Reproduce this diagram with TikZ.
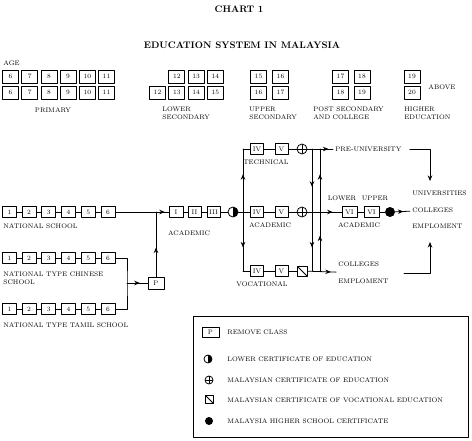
\documentclass[tikz,border=0pt]{standalone}
\usetikzlibrary{arrows.meta,decorations.markings}
\tikzset{
  age/.style={draw,inner sep=0pt,minimum width=16pt,minimum height=13pt},
  bx/.style={draw,inner sep=0pt,minimum width=#1,minimum height=11pt},
  bx/.default=14pt,
  lbl/.style={inner sep=0pt,align=left,anchor=west},
  hd/.style={inner sep=0pt,font=\fontsize{9.5}{11}\selectfont\bfseries},
  lce/.style={circle,draw,inner sep=0pt,minimum size=#1,
    path picture={\fill (path picture bounding box.north) rectangle (path picture bounding box.south east);}},
  lce/.default=10pt,
  mce/.style={circle,draw,inner sep=0pt,minimum size=#1,
    path picture={\draw (path picture bounding box.north) -- (path picture bounding box.south)
      (path picture bounding box.west) -- (path picture bounding box.east);}},
  mce/.default=10pt,
  mcve/.style={rectangle,draw,inner sep=0pt,minimum size=#1,
    path picture={\draw (path picture bounding box.north west) -- (path picture bounding box.south east);}},
  mcve/.default=10pt,
  hsc/.style={circle,fill,inner sep=0pt,minimum size=#1},
  hsc/.default=10pt,
  midarr/.style={decoration={markings,mark=at position #1 with {\arrow{>}}},postaction={decorate}},
  midarr/.default=0.6
}
\begin{document}
\begin{tikzpicture}[x=1pt,y=-1pt,>={Stealth[length=5.5pt,width=4.5pt]},line cap=round,line join=round,
  line width=0.8pt,font=\fontsize{6.6}{8.2}\selectfont]
\useasboundingbox (0,0) rectangle (472,440);
\node[hd](ti) at (239,9) {CHART 1};
\node[hd](st) at (242,45) {EDUCATION SYSTEM IN MALAYSIA};

% ages
\node[lbl](ag) at (3,63) {AGE};
\path(10.5,76.5)node[age](a1){6} ++(19.2,0)node[age](a2){7} ++(19.2,0)node[age](a3){8}
 ++(19.2,0)node[age](a4){9} ++(19.2,0)node[age](a5){10} ++(19.2,0)node[age](a6){11}
 (10.5,92.5)node[age](b1){6} ++(19.2,0)node[age](b2){7} ++(19.2,0)node[age](b3){8}
 ++(19.2,0)node[age](b4){9} ++(19.2,0)node[age](b5){10} ++(19.2,0)node[age](b6){11}
 (176.8,76.5)node[age](a7){12} ++(19.3,0)node[age](a8){13} ++(19.3,0)node[age](a9){14}
 (157.5,92.5)node[age](b7){12} ++(19.3,0)node[age](b8){13} ++(19.3,0)node[age](b9){14} ++(19.3,0)node[age](b10){15}
 (258.5,76.5)node[age](a10){15} ++(22,0)node[age](a11){16}
 (258.5,92.5)node[age](b11){16} ++(22,0)node[age](b12){17}
 (340.5,76.5)node[age](a12){17} ++(21.5,0)node[age](a13){18}
 (340.5,92.5)node[age](b13){18} ++(21.5,0)node[age](b14){19}
 (412,76.5)node[age](a14){19} (412,92.5)node[age](b15){20};
\node(ab) at (442,87) {ABOVE};
\node(pr) at (53,110) {PRIMARY};
\node[lbl](ls) at (162,113) {LOWER\\SECONDARY};
\node[lbl](us) at (249,113) {UPPER\\SECONDARY};
\node[lbl](ps) at (313,113) {POST SECONDARY\\AND COLLEGE};
\node[lbl](he) at (404,113) {HIGHER\\EDUCATION};

% primary schools
\path(9.4,212)node[bx](n1){1} ++(19.7,0)node[bx](n2){2} ++(19.7,0)node[bx](n3){3}
 ++(19.7,0)node[bx](n4){4} ++(19.7,0)node[bx](n5){5} ++(19.7,0)node[bx](n6){6}
 (9.4,258)node[bx](c1){1} ++(19.7,0)node[bx](c2){2} ++(19.7,0)node[bx](c3){3}
 ++(19.7,0)node[bx](c4){4} ++(19.7,0)node[bx](c5){5} ++(19.7,0)node[bx](c6){6}
 (9.4,309)node[bx](t1){1} ++(19.7,0)node[bx](t2){2} ++(19.7,0)node[bx](t3){3}
 ++(19.7,0)node[bx](t4){4} ++(19.7,0)node[bx](t5){5} ++(19.7,0)node[bx](t6){6};
\draw(n1)--(n2)--(n3)--(n4)--(n5)--(n6) (c1)--(c2)--(c3)--(c4)--(c5)--(c6) (t1)--(t2)--(t3)--(t4)--(t5)--(t6);
\node[lbl](nl) at (3,226) {NATIONAL SCHOOL};
\node[lbl](cl) at (3,278) {NATIONAL TYPE CHINESE\\SCHOOL};
\node[lbl](tl) at (3,325) {NATIONAL TYPE TAMIL SCHOOL};

% remove class and lower secondary
\node[bx=16pt,minimum height=12pt](p) at (156,283) {P};
\coordinate(j) at (156,212);
\coordinate(k) at (127,283);
\draw(c6)-|(k)|-(t6);
\draw[midarr=0.62](k)--(p);
\draw[midarr=0.45](p)--(j);
\draw(n6)--(j);
\path(176,212)node[bx](l1){I} ++(18.5,0)node[bx=13pt](l2){II} ++(19,0)node[bx=13pt](l3){III}
 ++(19.5,0)node[lce](lc){};
\draw[midarr=0.7](j)--(l1);
\draw(l1)--(l2)--(l3)--(lc);
\node(la) at (189,233) {ACADEMIC};

% upper secondary
\coordinate(s) at (243,212);
\path(257,149)node[bx=13pt](u1){IV} ++(24.5,0)node[bx=13pt](u2){V} ++(20.5,0)node[mce](u3){}
 (257,212)node[bx=13pt](m1){IV} ++(24.5,0)node[bx=13pt](m2){V} ++(20.5,0)node[mce](m3){}
 (257,271)node[bx=13pt](v1){IV} ++(24.5,0)node[bx=13pt](v2){V} ++(20.5,0)node[mcve](v3){};
\draw(lc)--(m1)--(m2)--(m3) (u1)--(u2)--(u3) (v1)--(v2)--(v3);
\draw[midarr](s)--(s|-u1);
\draw[midarr](s)--(s|-v1);
\draw(s|-u1)--(u1) (s|-v1)--(v1);
\node(ut) at (266,162) {TECHNICAL};
\node(ua) at (270,225) {ACADEMIC};
\node(uv) at (262,284) {VOCATIONAL};

% links between streams
\coordinate(d1) at (312,149); \coordinate(d2) at (312,212); \coordinate(d3) at (312,271);
\coordinate(e1) at (320,149); \coordinate(e2) at (320,212); \coordinate(e3) at (320,271);
\draw[midarr](d1)--(d2); \draw[midarr](d2)--(d3);
\draw[midarr](e3)--(e2); \draw[midarr](e2)--(e1);

% sixth form and beyond
\node[lbl,inner sep=2pt](pu) at (333,149) {PRE-UNIVERSITY};
\path(349.5,212)node[bx=15pt](w1){VI} ++(22,0)node[bx=15pt](w2){VI} ++(18.5,0)node[hsc](w3){};
\draw[midarr=0.82](u3)--(pu);
\draw[midarr=0.74](m3)--(w1);
\draw(w1)--(w2)--(w3);
\node(lw) at (342,198) {LOWER};
\node(up) at (375,198) {UPPER};
\node(wa) at (359,225) {ACADEMIC};
\node[lbl,inner sep=2pt](ce) at (336,273) {COLLEGES\\[9pt]EMPLOMENT};
\draw[midarr=0.82](v3)--(ce);
\node[lbl,inner sep=2pt](uc) at (410,210) {UNIVERSITIES\\[8.5pt]COLLEGES\\[8.5pt]EMPLOMENT};
\draw[midarr=0.55](w3)--(uc);
\coordinate(f) at (430,181);
\coordinate(g) at (430,242);
\draw[->]([xshift=6pt]pu.east)-|(f);
\draw[->]([xshift=13pt]ce.east)-|(g);

% key
\draw(193,316) rectangle (468,437);
\node[bx=17pt,minimum height=10pt](kp) at (210.5,332) {P};
\node[lce=8pt](k1) at (208,359) {};
\node[mce=8pt](k2) at (209,380) {};
\node[mcve=8pt](k3) at (209.5,399.5) {};
\node[hsc=8pt](k4) at (209,421) {};
\node[lbl](kt) at (227,332) {REMOVE CLASS};
\node[lbl](k1t) at (227,359) {LOWER CERTIFICATE OF EDUCATION};
\node[lbl](k2t) at (227,380) {MALAYSIAN CERTIFICATE OF EDUCATION};
\node[lbl](k3t) at (227,400) {MALAYSIAN CERTIFICATE OF VOCATIONAL EDUCATION};
\node[lbl](k4t) at (227,421) {MALAYSIA HIGHER SCHOOL CERTIFICATE};
\end{tikzpicture}
\end{document}
